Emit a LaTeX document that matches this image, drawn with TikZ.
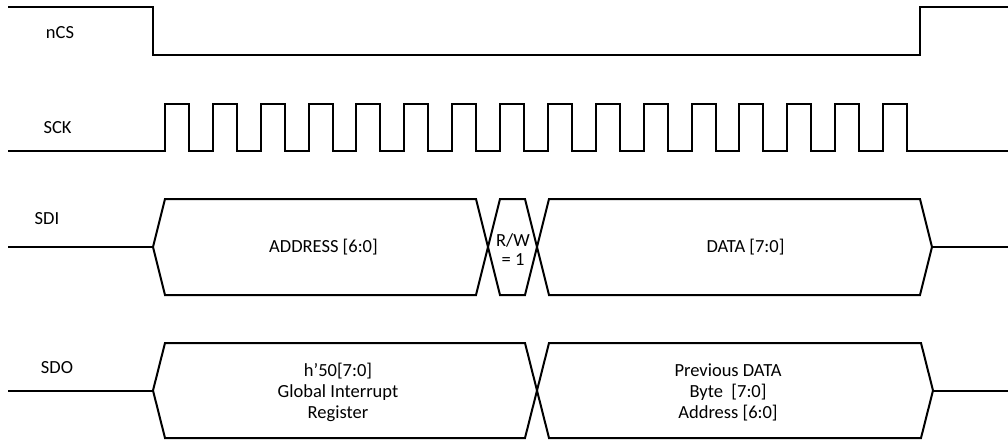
\documentclass[tikz,border=0pt]{standalone}
\usepackage{fontspec}
\setmainfont{Carlito}
\begin{document}
\begin{tikzpicture}[x=1pt, y=1pt, line width=2pt,
    sig/.style={font=\fontsize{18.5}{21}\selectfont},
    bustext/.style={font=\fontsize{18.5}{21}\selectfont, align=center, inner sep=0pt}]
        \useasboundingbox (0,0) rectangle (1008,-439);

        \node[sig] (ncs) at (60,-33) {nCS};
        \node[sig] (sck) at (57.5,-127.5) {SCK};
        \node[sig] (sdi) at (47,-218.5) {SDI};
        \node[sig] (sdo) at (57,-367.5) {SDO};

        \draw (8,-7) -- (153,-7) -- (153,-55) -- (920,-55) -- (920,-7) -- (1008,-7);

        \draw (8,-151) \foreach \i in {0, ..., 15}{
          -- ({165+47.87*\i},-151) -- ++(0,47) -- ++(24,0) -- ++(0,-47)} -- (1008,-151);

        \draw (8,-247) -- (153,-247);
        \draw (153,-247) -- (165,-199) -- (476,-199) -- (488,-247) -- (476,-295) -- (165,-295) -- cycle;
        \draw (488,-247) -- (500,-199) -- (525,-199) -- (537,-247) -- (525,-295) -- (500,-295) -- cycle;
        \draw (537,-247) -- (549,-199) -- (920,-199) -- (932,-247) -- (920,-295) -- (549,-295) -- cycle;
        \draw (932,-247) -- (1008,-247);
        \node[bustext] (addr) at (323.5,-247.5) {ADDRESS [6:0]};
        \node[bustext, font=\fontsize{18.5}{19.5}\selectfont] (rw) at (513,-249.5) {R/W\\= 1};
        \node[bustext] (data) at (745.5,-247.5) {DATA [7:0]};

        \draw (8,-390.5) -- (153,-390.5);
        \draw (153,-390.5) -- (165,-343) -- (525,-343) -- (537,-390.5) -- (525,-438) -- (165,-438) -- cycle;
        \draw (537,-390.5) -- (549,-343) -- (921,-343) -- (933,-390.5) -- (921,-438) -- (549,-438) -- cycle;
        \draw (933,-390.5) -- (1008,-390.5);
        \node[bustext] (gir) at (338,-392) {h’50[7:0]\\Global Interrupt\\Register};
        \node[bustext] (prev) at (728,-392) {Previous DATA\\Byte~~[7:0]\\Address [6:0]};
      \end{tikzpicture}
\end{document}
